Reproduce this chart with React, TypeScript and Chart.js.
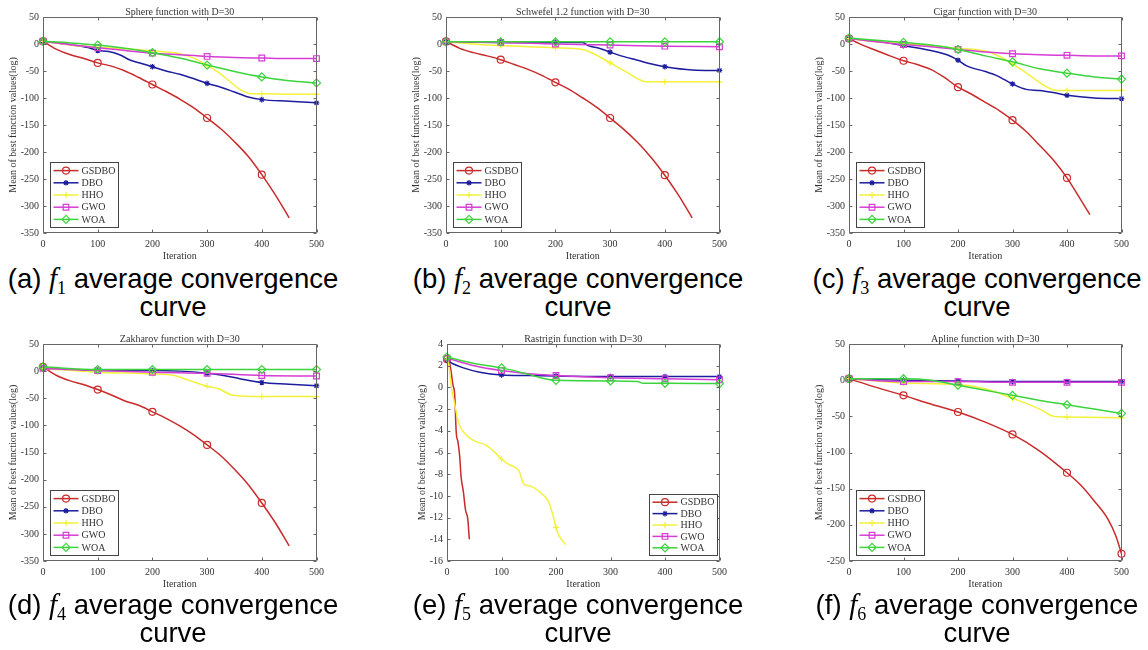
import React, { useEffect, useRef } from 'react';
import { Chart, registerables } from 'chart.js';

Chart.register(...registerables);

type Pt = [number, number];

// ---------------- data ----------------
const SERIES_NAMES = ['GSDBO', 'DBO', 'HHO', 'GWO', 'WOA'];
const X_TICKS = [0, 100, 200, 300, 400, 500];
const Y_TICKS_A = [50, 0, -50, -100, -150, -200, -250, -300, -350];
const Y_TICKS_E = [4, 2, 0, -2, -4, -6, -8, -10, -12, -14, -16];
const Y_TICKS_F = [50, 0, -50, -100, -150, -200, -250];

// (a) Sphere
const A_GSDBO: Pt[] = [[0, 5], [25, -10], [50, -20], [75, -27], [100, -35], [125, -41], [150, -50], [175, -62], [200, -75], [225, -88], [250, -102], [275, -118], [300, -137], [325, -157], [350, -181], [375, -208], [400, -242], [425, -280], [450, -322]];
const A_DBO: Pt[] = [[0, 5], [40, 0], [80, -6], [100, -12], [120, -14], [140, -20], [160, -30], [180, -36], [200, -42], [225, -50], [250, -56], [275, -64], [300, -73], [325, -80], [350, -89], [375, -98], [400, -103], [450, -106], [500, -109]];
const A_HHO: Pt[] = [[0, 5], [50, -2], [100, -6], [150, -9], [200, -13], [250, -18], [280, -28], [300, -40], [320, -52], [340, -68], [360, -84], [380, -92], [400, -92], [450, -93], [500, -93]];
const A_GWO: Pt[] = [[0, 5], [100, -7], [150, -12], [200, -17], [250, -20], [300, -23], [350, -25], [400, -26], [450, -27], [500, -27]];
const A_WOA: Pt[] = [[0, 5], [50, 2], [100, -2], [150, -8], [200, -16], [250, -26], [300, -39], [350, -51], [400, -61], [450, -68], [500, -72]];

// (b) Schwefel 1.2
const B_GSDBO: Pt[] = [[0, 5], [25, -8], [50, -16], [75, -22], [100, -29], [125, -38], [150, -47], [175, -58], [200, -71], [225, -84], [250, -100], [275, -117], [300, -137], [325, -158], [350, -182], [375, -210], [400, -243], [425, -280], [450, -322]];
const B_DBO: Pt[] = [[0, 4], [100, 3], [200, 3], [250, 3], [260, -3], [280, -8], [300, -15], [320, -22], [350, -30], [380, -38], [400, -42], [450, -48], [500, -49]];
const B_HHO: Pt[] = [[0, 4], [50, 0], [100, -3], [150, -5], [200, -7], [250, -10], [270, -18], [300, -35], [330, -52], [350, -64], [365, -70], [400, -70], [500, -70]];
const B_GWO: Pt[] = [[0, 4], [100, 3], [200, 0], [300, -2], [400, -4], [500, -5]];
const B_WOA: Pt[] = [[0, 4], [100, 4], [200, 4], [300, 4], [400, 4], [500, 4]];

// (c) Cigar
const C_GSDBO: Pt[] = [[0, 10], [25, -2], [50, -12], [75, -22], [100, -31], [125, -38], [150, -47], [175, -62], [200, -80], [225, -93], [250, -108], [275, -123], [300, -141], [325, -162], [350, -188], [375, -215], [400, -248], [420, -280], [442, -316]];
const C_DBO: Pt[] = [[0, 10], [50, 5], [100, -3], [150, -12], [180, -20], [200, -30], [215, -40], [250, -51], [270, -58], [285, -66], [300, -74], [325, -84], [350, -86], [375, -90], [400, -95], [450, -100], [500, -101]];
const C_HHO: Pt[] = [[0, 10], [50, 4], [100, 1], [150, -3], [200, -8], [250, -13], [280, -25], [300, -37], [330, -57], [360, -78], [380, -86], [400, -86], [500, -86]];
const C_GWO: Pt[] = [[0, 10], [100, -1], [150, -5], [200, -10], [250, -15], [300, -18], [350, -20], [400, -21], [450, -22], [500, -22]];
const C_WOA: Pt[] = [[0, 11], [50, 7], [100, 3], [150, -2], [200, -10], [250, -22], [300, -33], [350, -46], [400, -54], [450, -61], [500, -65]];

// (d) Zakharov
const D_GSDBO: Pt[] = [[0, 8], [25, -8], [50, -18], [75, -25], [100, -34], [125, -44], [150, -55], [175, -63], [200, -75], [225, -87], [250, -101], [275, -117], [300, -136], [325, -156], [350, -181], [375, -209], [400, -243], [425, -280], [450, -322]];
const D_DBO: Pt[] = [[0, 5], [100, 1], [200, 1], [250, 0], [300, -4], [330, -8], [360, -14], [400, -21], [450, -24], [500, -27]];
const D_HHO: Pt[] = [[0, 5], [100, -2], [200, -5], [240, -8], [270, -18], [300, -28], [320, -32], [345, -44], [400, -47], [500, -47]];
const D_GWO: Pt[] = [[0, 5], [100, 1], [200, -2], [300, -4], [400, -8], [500, -9]];
const D_WOA: Pt[] = [[0, 8], [100, 3], [200, 3], [300, 3], [400, 3], [500, 3]];

// (e) Rastrigin
const E_GSDBO: Pt[] = [[0, 2.6], [5, 2.2], [8, 1.3], [11, 0.2], [14, -0.6], [17, -4.2], [20, -5], [23, -6.2], [26, -8.3], [30, -9.6], [34, -11.3], [38, -12.1], [41, -14]];
const E_DBO: Pt[] = [[0, 2.5], [10, 2.2], [30, 1.8], [60, 1.4], [100, 1.15], [150, 1.1], [200, 1.05], [300, 1.0], [400, 1.0], [500, 1.0]];
const E_HHO: Pt[] = [[0, 2.6], [2, 2.5], [8, 0], [14, -1.5], [21, -3.2], [38, -4.5], [53, -5], [71, -5.3], [86, -5.9], [100, -6.6], [113, -7.1], [132, -7.7], [141, -8.9], [153, -9.1], [174, -9.8], [186, -10.5], [195, -11.9], [200, -12.9], [205, -13.6], [218, -14.5]];
const E_GWO: Pt[] = [[0, 2.7], [50, 2.0], [100, 1.55], [150, 1.25], [200, 1.1], [300, 0.9], [400, 0.8], [500, 0.7]];
const E_WOA: Pt[] = [[0, 2.8], [50, 2.2], [100, 1.8], [150, 1.2], [180, 0.8], [200, 0.65], [300, 0.6], [350, 0.55], [360, 0.38], [400, 0.38], [500, 0.35]];

// (f) Apline
const F_GSDBO: Pt[] = [[0, 2], [50, -10], [100, -21], [150, -33], [200, -44], [250, -58], [300, -75], [350, -98], [400, -128], [425, -145], [450, -167], [475, -192], [490, -216], [500, -240]];
const F_DBO: Pt[] = [[0, 2], [100, 0], [200, -1], [300, -2], [400, -2], [500, -2]];
const F_HHO: Pt[] = [[0, 2], [100, -4], [200, -6], [250, -12], [300, -25], [350, -40], [375, -50], [400, -51], [500, -52]];
const F_GWO: Pt[] = [[0, 2], [100, -2], [200, -2], [300, -3], [400, -3], [500, -3]];
const F_WOA: Pt[] = [[0, 2], [100, 2], [150, 0], [200, -7], [250, -14], [300, -21], [350, -28], [400, -34], [450, -40], [500, -46]];

const TITLES = [
  'Sphere function with D=30',
  'Schwefel 1.2 function with D=30',
  'Cigar function with D=30',
  'Zakharov function with D=30',
  'Rastrigin function with D=30',
  'Apline function with D=30',
];
const CAPTION_LETTERS = ['a', 'b', 'c', 'd', 'e', 'f'];
const CAPTION_INDEX = ['1', '2', '3', '4', '5', '6'];
const X_LABEL = 'Iteration';
const Y_LABEL = 'Mean of best function values(log)';

// ---------------- styles / layout ----------------
const FONT = "'Liberation Serif', 'Times New Roman', serif";
const TEXT_COLOR = '#333';
const BOX_COLOR = '#666';
const COLORS = ['#c92a2a', '#1c1c9c', '#f2f23a', '#d63cd6', '#3cd43c'];
const MARKERS = ['circle', 'star', 'cross', 'rect', 'rectRot'];
const MARKER_R = [3.5, 2.8, 3, 4, 4];
const TITLE_H = 14;
const X_AXIS_H = 29;
const PAD_R = 10;

type PanelCfg = {
  title: string;
  series: Pt[][];
  yTicks: number[];
  plot: { l: number; t: number; r: number; b: number };
  yAxisW: number;
  corner: 'bl' | 'br';
  legendH: number;
};

const PANELS: PanelCfg[] = [
  { title: TITLES[0], series: [A_GSDBO, A_DBO, A_HHO, A_GWO, A_WOA], yTicks: Y_TICKS_A, plot: { l: 43, t: 17, r: 319, b: 233 }, yAxisW: 36, corner: 'bl', legendH: 65 },
  { title: TITLES[1], series: [B_GSDBO, B_DBO, B_HHO, B_GWO, B_WOA], yTicks: Y_TICKS_A, plot: { l: 446, t: 17, r: 722, b: 233 }, yAxisW: 36, corner: 'bl', legendH: 65 },
  { title: TITLES[2], series: [C_GSDBO, C_DBO, C_HHO, C_GWO, C_WOA], yTicks: Y_TICKS_A, plot: { l: 849, t: 17, r: 1124, b: 233 }, yAxisW: 36, corner: 'bl', legendH: 65 },
  { title: TITLES[3], series: [D_GSDBO, D_DBO, D_HHO, D_GWO, D_WOA], yTicks: Y_TICKS_A, plot: { l: 43, t: 344, r: 319, b: 561 }, yAxisW: 36, corner: 'bl', legendH: 65 },
  { title: TITLES[4], series: [E_GSDBO, E_DBO, E_HHO, E_GWO, E_WOA], yTicks: Y_TICKS_E, plot: { l: 447, t: 344, r: 722, b: 561 }, yAxisW: 31, corner: 'br', legendH: 61 },
  { title: TITLES[5], series: [F_GSDBO, F_DBO, F_HHO, F_GWO, F_WOA], yTicks: Y_TICKS_F, plot: { l: 849, t: 344, r: 1124, b: 561 }, yAxisW: 36, corner: 'bl', legendH: 65 },
];

const CAPTION_POS = [
  { cx: 173, top: 264 },
  { cx: 578, top: 264 },
  { cx: 977, top: 264 },
  { cx: 173, top: 590 },
  { cx: 578, top: 590 },
  { cx: 977, top: 590 },
];

// ---------------- plugins ----------------
function drawMarker(ctx: CanvasRenderingContext2D, style: string, x: number, y: number, r: number, color: string) {
  ctx.save();
  ctx.strokeStyle = color;
  ctx.lineWidth = 1.2;
  ctx.beginPath();
  if (style === 'circle') {
    ctx.arc(x, y, r, 0, Math.PI * 2);
  } else if (style === 'rect') {
    const s = r * Math.SQRT1_2;
    ctx.rect(x - s, y - s, 2 * s, 2 * s);
  } else if (style === 'rectRot') {
    ctx.moveTo(x, y - r);
    ctx.lineTo(x + r, y);
    ctx.lineTo(x, y + r);
    ctx.lineTo(x - r, y);
    ctx.closePath();
  } else if (style === 'cross') {
    ctx.moveTo(x - r, y); ctx.lineTo(x + r, y);
    ctx.moveTo(x, y - r); ctx.lineTo(x, y + r);
  } else {
    ctx.moveTo(x - r, y); ctx.lineTo(x + r, y);
    ctx.moveTo(x, y - r); ctx.lineTo(x, y + r);
    const d = r * Math.SQRT1_2;
    ctx.moveTo(x - d, y - d); ctx.lineTo(x + d, y + d);
    ctx.moveTo(x - d, y + d); ctx.lineTo(x + d, y - d);
  }
  ctx.stroke();
  ctx.restore();
}

const framePlugin = {
  id: 'matlabFrame',
  afterDatasetsDraw(chart: any) {
    const { ctx, chartArea } = chart;
    const { left, right, top, bottom } = chartArea;
    const xs = chart.scales.x;
    const ys = chart.scales.y;
    ctx.save();
    ctx.strokeStyle = BOX_COLOR;
    ctx.lineWidth = 1;
    ctx.beginPath();
    const L = Math.round(left) + 0.5, R = Math.round(right) - 0.5, T = Math.round(top) + 0.5, B = Math.round(bottom) - 0.5;
    ctx.rect(L, T, R - L, B - T);
    xs.ticks.forEach((t: any) => {
      const p = Math.round(xs.getPixelForValue(t.value)) + 0.5;
      ctx.moveTo(p, B); ctx.lineTo(p, B - 3);
      ctx.moveTo(p, T); ctx.lineTo(p, T + 3);
    });
    ys.ticks.forEach((t: any) => {
      const p = Math.round(ys.getPixelForValue(t.value)) + 0.5;
      ctx.moveTo(L, p); ctx.lineTo(L + 3, p);
      ctx.moveTo(R, p); ctx.lineTo(R - 3, p);
    });
    ctx.stroke();
    ctx.restore();
  },
};

const boxLegendPlugin = {
  id: 'boxLegend',
  afterDraw(chart: any, _args: any, opts: any) {
    const { ctx, chartArea } = chart;
    const w = 68;
    const h = opts.height || 65;
    const x0 = Math.round(opts.corner === 'br' ? chartArea.right - 3 - w : chartArea.left + 7) + 0.5;
    const y0 = Math.round(chartArea.bottom - 6 - h) + 0.5;
    ctx.save();
    ctx.fillStyle = '#fff';
    ctx.fillRect(x0, y0, w, h);
    ctx.strokeStyle = '#444';
    ctx.lineWidth = 1;
    ctx.strokeRect(x0, y0, w, h);
    const step = (h - 4) / 5;
    ctx.font = `10px ${FONT}`;
    ctx.textBaseline = 'middle';
    ctx.textAlign = 'left';
    chart.data.datasets.forEach((ds: any, i: number) => {
      const y = y0 + 2 + step * (i + 0.5);
      ctx.strokeStyle = ds.borderColor;
      ctx.lineWidth = 1.5;
      ctx.beginPath();
      ctx.moveTo(x0 + 3, y);
      ctx.lineTo(x0 + 28, y);
      ctx.stroke();
      drawMarker(ctx, MARKERS[i], x0 + 15.5, y, MARKER_R[i], ds.borderColor);
      ctx.fillStyle = TEXT_COLOR;
      ctx.fillText(ds.label, x0 + 31, y + 0.5);
    });
    ctx.restore();
  },
};

// ---------------- components ----------------
function Panel({ cfg }: { cfg: PanelCfg }) {
  const ref = useRef<HTMLCanvasElement>(null);
  const W = cfg.yAxisW + (cfg.plot.r - cfg.plot.l) + PAD_R;
  const H = TITLE_H + (cfg.plot.b - cfg.plot.t) + X_AXIS_H;

  useEffect(() => {
    if (!ref.current) return;
    const yMin = Math.min(...cfg.yTicks);
    const yMax = Math.max(...cfg.yTicks);
    const font = { family: FONT, size: 10 };
    const chart = new Chart(ref.current, {
      type: 'line',
      data: {
        datasets: cfg.series.map((pts, i) => ({
          label: SERIES_NAMES[i],
          data: pts.map(([x, y]) => ({ x, y })),
          borderColor: COLORS[i],
          backgroundColor: 'rgba(0,0,0,0)',
          borderWidth: 1.5,
          pointStyle: MARKERS[i] as any,
          pointRadius: (c: any) => (c.raw && c.raw.x % 100 === 0 ? MARKER_R[i] : 0),
          pointBorderColor: COLORS[i],
          pointBackgroundColor: 'rgba(0,0,0,0)',
          pointBorderWidth: 1.2,
          cubicInterpolationMode: 'monotone',
          order: 5 - i,
          clip: false as any,
        })),
      },
      options: {
        animation: false,
        responsive: false,
        devicePixelRatio: 1,
        events: [],
        layout: { padding: { left: 0, top: 0, bottom: 0, right: PAD_R } },
        plugins: {
          legend: { display: false },
          tooltip: { enabled: false },
          title: {
            display: true,
            text: cfg.title,
            fullSize: false,
            color: TEXT_COLOR,
            font: { family: FONT, size: 10, weight: 'normal', lineHeight: 1 },
            padding: { top: 4, bottom: 0 },
          },
          boxLegend: { corner: cfg.corner, height: cfg.legendH },
        } as any,
        scales: {
          x: {
            type: 'linear',
            min: 0,
            max: 500,
            afterBuildTicks: (s: any) => { s.ticks = X_TICKS.map((v) => ({ value: v })); },
            afterFit: (s: any) => { s.height = X_AXIS_H; },
            grid: { display: false, drawTicks: false },
            border: { display: false },
            ticks: { font, color: TEXT_COLOR, padding: 5, maxRotation: 0, autoSkip: false, callback: (v: any) => String(v) },
            title: { display: true, text: X_LABEL, font, color: TEXT_COLOR, padding: { top: 0, bottom: 0 } },
          },
          y: {
            type: 'linear',
            min: yMin,
            max: yMax,
            afterBuildTicks: (s: any) => { s.ticks = cfg.yTicks.map((v) => ({ value: v })); },
            afterFit: (s: any) => { s.width = cfg.yAxisW; },
            grid: { display: false, drawTicks: false },
            border: { display: false },
            ticks: { font, color: TEXT_COLOR, padding: 4, autoSkip: false, callback: (v: any) => String(v) },
            title: { display: true, text: Y_LABEL, font, color: TEXT_COLOR, padding: { top: 0, bottom: 0 } },
          },
        },
      },
      plugins: [framePlugin, boxLegendPlugin],
    });
    return () => chart.destroy();
  }, []);

  return (
    <canvas
      ref={ref}
      width={W}
      height={H}
      style={{ position: 'absolute', left: cfg.plot.l - cfg.yAxisW, top: cfg.plot.t - TITLE_H, width: W, height: H }}
    />
  );
}

function Caption({ i }: { i: number }) {
  const pos = CAPTION_POS[i];
  return (
    <div
      style={{
        position: 'absolute',
        left: pos.cx - 200,
        top: pos.top,
        width: 400,
        textAlign: 'center',
        fontFamily: "'Liberation Sans', Arial, sans-serif",
        fontSize: 27.5,
        lineHeight: '28px',
        color: '#000',
        whiteSpace: 'nowrap',
      }}
    >
      ({CAPTION_LETTERS[i]}){' '}
      <span style={{ fontFamily: "'Liberation Serif', serif", fontStyle: 'italic', fontSize: 29 }}>f</span>
      <span style={{ fontFamily: "'Liberation Serif', serif", fontSize: 18, position: 'relative', top: 6, lineHeight: 0 }}>
        {CAPTION_INDEX[i]}
      </span>{' '}
      average convergence
      <br />
      curve
    </div>
  );
}

export default function App() {
  return (
    <div style={{ position: 'absolute', left: 0, top: 0, width: 1148, height: 650, background: '#fff', overflow: 'hidden' }}>
      {PANELS.map((p, i) => (
        <Panel key={i} cfg={p} />
      ))}
      {PANELS.map((_, i) => (
        <Caption key={'c' + i} i={i} />
      ))}
    </div>
  );
}
